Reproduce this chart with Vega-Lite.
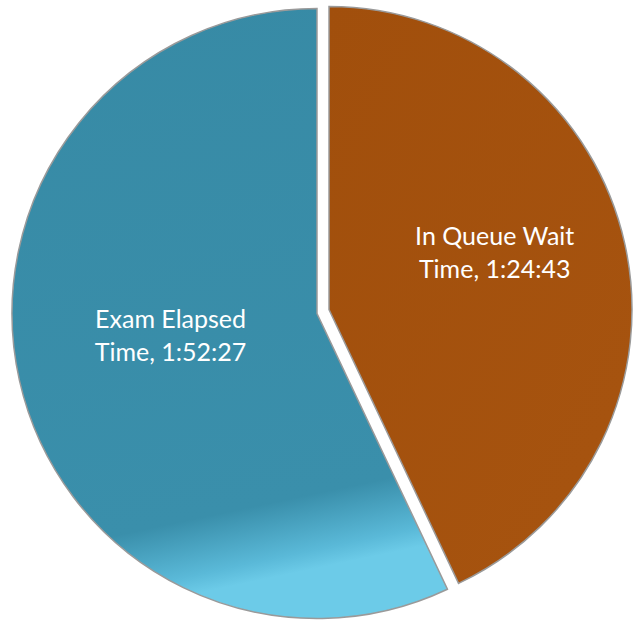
{
  "$schema": "https://vega.github.io/schema/vega-lite/v6.json",
  "width": 634,
  "height": 620,
  "autosize": {"type": "fit", "contains": "padding"},
  "padding": 0,
  "background": "white",
  "config": {"view": {"stroke": null}},
  "data": {
    "values": [
      {"category": "In Queue Wait Time", "time": "1:24:43", "seconds": 5083, "label": "In Queue Wait\nTime, 1:24:43"},
      {"category": "Exam Elapsed Time", "time": "1:52:27", "seconds": 6747, "label": "Exam Elapsed\nTime, 1:52:27"}
    ]
  },
  "transform": [
    {"stack": "seconds", "groupby": [], "sort": [{"field": "category", "order": "descending"}], "as": ["s0", "s1"]},
    {"calculate": "(datum.s0 + datum.s1) / 2", "as": "mid"}
  ],
  "layer": [
    {
      "transform": [{"filter": "datum.category == 'Exam Elapsed Time'"}],
      "mark": {
        "type": "arc", "outerRadius": 305, "xOffset": 1, "yOffset": 5,
        "fill": {"gradient": "linear", "x1": 0, "y1": 0, "x2": 0.15, "y2": 1,
          "stops": [{"offset": 0, "color": "#378aa5"}, {"offset": 0.88, "color": "#3a8fab"}, {"offset": 0.97, "color": "#5ab9d8"}, {"offset": 1, "color": "#6ccbe8"}]},
        "stroke": "#9a9a9a", "strokeWidth": 1.5
      },
      "encoding": {
        "theta": {"field": "s0", "type": "quantitative", "scale": {"domain": [0, 11830]}},
        "theta2": {"field": "s1"}
      }
    },
    {
      "transform": [{"filter": "datum.category == 'In Queue Wait Time'"}],
      "mark": {
        "type": "arc", "outerRadius": 303, "xOffset": 13, "yOffset": 1,
        "fill": {"gradient": "linear", "x1": 0, "y1": 0, "x2": 1, "y2": 1,
          "stops": [{"offset": 0, "color": "#a14f0c"}, {"offset": 0.82, "color": "#a6530f"}, {"offset": 1, "color": "#e08a42"}]},
        "stroke": "#9a9a9a", "strokeWidth": 1.5
      },
      "encoding": {
        "theta": {"field": "s0", "type": "quantitative"},
        "theta2": {"field": "s1"}
      }
    },
    {
      "transform": [{"filter": "datum.category == 'Exam Elapsed Time'"}],
      "mark": {"type": "text", "radius": 147, "xOffset": -2, "yOffset": -21, "color": "white", "font": "Lato", "fontSize": 25, "lineBreak": "\n", "lineHeight": 33, "align": "center", "baseline": "middle"},
      "encoding": {
        "theta": {"field": "mid", "type": "quantitative"},
        "text": {"field": "label"}
      }
    },
    {
      "transform": [{"filter": "datum.category == 'In Queue Wait Time'"}],
      "mark": {"type": "text", "radius": 177, "xOffset": 6, "yOffset": -33, "color": "white", "font": "Lato", "fontSize": 25, "lineBreak": "\n", "lineHeight": 33, "align": "center", "baseline": "middle"},
      "encoding": {
        "theta": {"field": "mid", "type": "quantitative"},
        "text": {"field": "label"}
      }
    }
  ]
}
